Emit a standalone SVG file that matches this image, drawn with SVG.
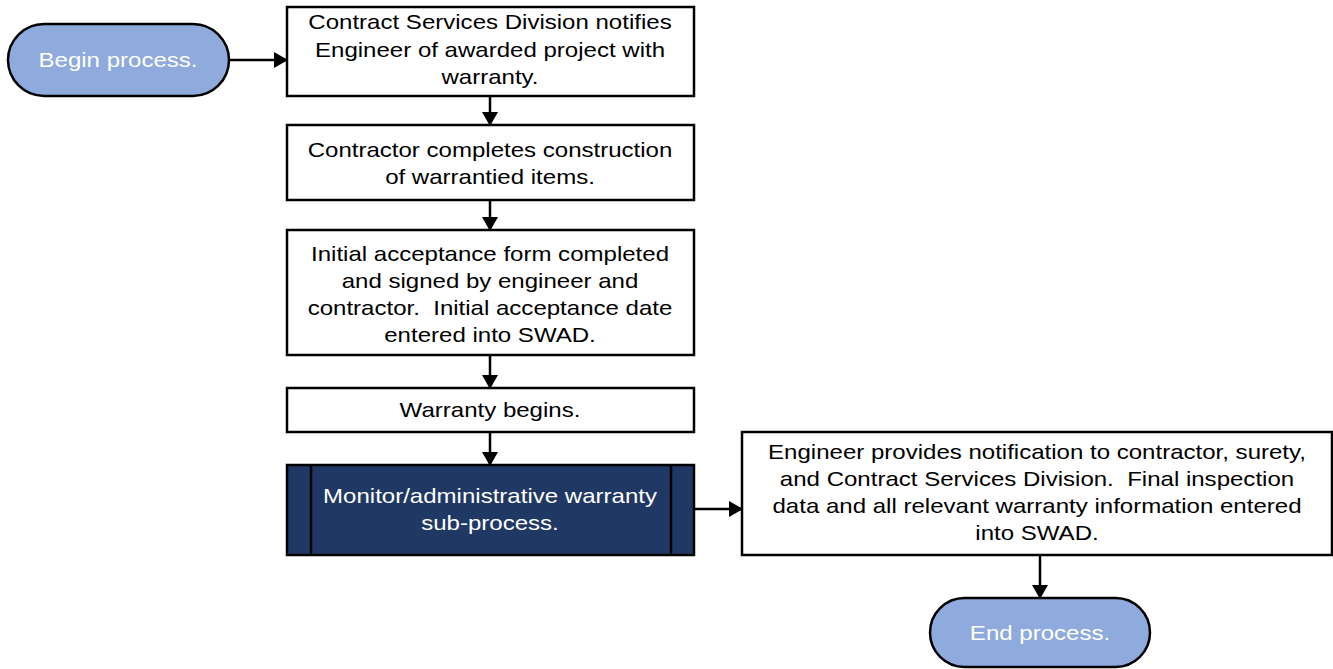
<svg xmlns="http://www.w3.org/2000/svg" width="1333" height="669" viewBox="0 0 1333 669">
<defs>
<style>
.box{fill:#fff;stroke:#000;stroke-width:2.5}
.term{fill:#8faadc;stroke:#000;stroke-width:2.5}
.sub{fill:#203864;stroke:#000;stroke-width:2.5}
.t{font-family:"Liberation Sans",Arial,sans-serif;font-size:21px;text-anchor:middle;fill:#000}
.w{fill:#fff}
.c{fill:none;stroke:#000;stroke-width:2.5}
</style>
<marker id="ah" markerWidth="14" markerHeight="16" refX="13" refY="8" orient="auto" markerUnits="userSpaceOnUse" viewBox="0 0 14 16">
<path d="M0,0 L14,8 L0,16 z" fill="#000"/>
</marker>
</defs>
<g id="connectors">
<line class="c" x1="229" y1="60" x2="287" y2="60" marker-end="url(#ah)"/>
<line class="c" x1="490" y1="96" x2="490" y2="125" marker-end="url(#ah)"/>
<line class="c" x1="490" y1="200" x2="490" y2="230" marker-end="url(#ah)"/>
<line class="c" x1="490" y1="355" x2="490" y2="388" marker-end="url(#ah)"/>
<line class="c" x1="490" y1="432" x2="490" y2="465" marker-end="url(#ah)"/>
<line class="c" x1="694" y1="509" x2="742" y2="509" marker-end="url(#ah)"/>
<line class="c" x1="1040" y1="555" x2="1040" y2="598" marker-end="url(#ah)"/>
</g>
<g id="begin">
<rect class="term" x="8" y="24" width="221" height="72" rx="36" ry="36"/>
<text class="t w" transform="translate(118,67) scale(1.145,1)">Begin process.</text>
</g>
<g id="notify">
<rect class="box" x="287" y="7" width="407" height="89"/>
<text class="t" transform="translate(490,29) scale(1.145,1)">Contract Services Division notifies</text>
<text class="t" transform="translate(490,57) scale(1.145,1)">Engineer of awarded project with</text>
<text class="t" transform="translate(490,84) scale(1.145,1)">warranty.</text>
</g>
<g id="construct">
<rect class="box" x="287" y="125" width="407" height="75"/>
<text class="t" transform="translate(490,157) scale(1.145,1)">Contractor completes construction</text>
<text class="t" transform="translate(490,184) scale(1.145,1)">of warrantied items.</text>
</g>
<g id="acceptance">
<rect class="box" x="287" y="230" width="407" height="125"/>
<text class="t" transform="translate(490,261) scale(1.145,1)">Initial acceptance form completed</text>
<text class="t" transform="translate(490,288) scale(1.145,1)">and signed by engineer and</text>
<text class="t" transform="translate(490,315) scale(1.145,1)" xml:space="preserve">contractor.  Initial acceptance date</text>
<text class="t" transform="translate(490,342) scale(1.145,1)">entered into SWAD.</text>
</g>
<g id="begins">
<rect class="box" x="287" y="388" width="407" height="44"/>
<text class="t" transform="translate(490,417) scale(1.145,1)">Warranty begins.</text>
</g>
<g id="monitor">
<rect class="sub" x="287" y="465" width="407" height="90"/>
<line class="c" x1="311" y1="465" x2="311" y2="555"/>
<line class="c" x1="671" y1="465" x2="671" y2="555"/>
<text class="t w" transform="translate(490,503) scale(1.145,1)">Monitor/administrative warranty</text>
<text class="t w" transform="translate(490,530) scale(1.145,1)">sub-process.</text>
</g>
<g id="final">
<rect class="box" x="742" y="432" width="590" height="123"/>
<text class="t" transform="translate(1037,459) scale(1.145,1)">Engineer provides notification to contractor, surety,</text>
<text class="t" transform="translate(1037,486) scale(1.145,1)" xml:space="preserve">and Contract Services Division.  Final inspection</text>
<text class="t" transform="translate(1037,513) scale(1.145,1)">data and all relevant warranty information entered</text>
<text class="t" transform="translate(1037,540) scale(1.145,1)">into SWAD.</text>
</g>
<g id="end">
<rect class="term" x="930" y="598" width="220" height="69" rx="34.5" ry="34.5"/>
<text class="t w" transform="translate(1040,640) scale(1.145,1)">End process.</text>
</g>
</svg>
